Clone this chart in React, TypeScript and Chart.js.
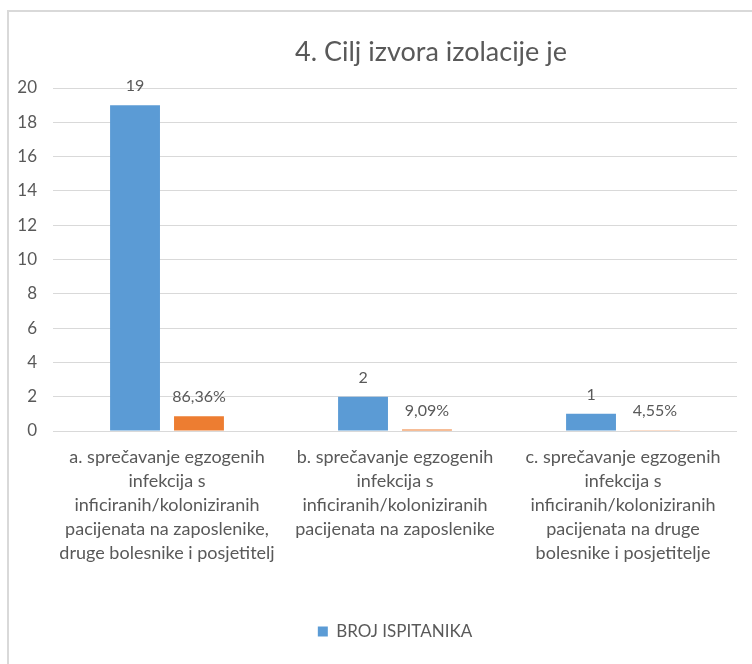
import React, { useEffect, useRef } from "react";
import { Chart, registerables } from "chart.js";

Chart.register(...registerables);

const titleText = "4. Cilj izvora izolacije je";
const categories: string[][] = [
  ["a. sprečavanje egzogenih", "infekcija s", "inficiranih/koloniziranih", "pacijenata na zaposlenike,", "druge bolesnike i posjetitelj"],
  ["b. sprečavanje egzogenih", "infekcija s", "inficiranih/koloniziranih", "pacijenata na zaposlenike"],
  ["c. sprečavanje egzogenih", "infekcija s", "inficiranih/koloniziranih", "pacijenata na druge", "bolesnike i posjetitelje"],
];
const countSeriesName = "BROJ ISPITANIKA";
const counts = [19, 2, 1];
const shareSeriesName = "POSTOTAK";
const shares = [0.8636, 0.0909, 0.0455];
const yMin = 0;
const yMax = 20;
const yStep = 2;

const FONT = "Lato";
const TEXT = "#595959";
const BLUE = "#5b9bd5";
const ORANGE = "#ed7d31";
const GRID = "#d9d9d9";

const formatValue = (dsIndex: number, v: number) =>
  dsIndex === 0 ? String(v) : (v * 100).toFixed(2).replace(".", ",") + "%";

const labelPlugin = {
  id: "extras",
  afterDatasetsDraw(chart: any) {
    const ctx = chart.ctx;
    ctx.save();
    ctx.fillStyle = TEXT;
    ctx.font = `16px ${FONT}`;
    ctx.textAlign = "center";
    ctx.textBaseline = "middle";
    chart.data.datasets.forEach((ds: any, di: number) => {
      const meta = chart.getDatasetMeta(di);
      meta.data.forEach((bar: any, i: number) => {
        ctx.fillText(formatValue(di, ds.data[i]), bar.x, bar.y - 19);
      });
    });
    ctx.font = `27px ${FONT}`;
    ctx.fillText(titleText, 431, 52);
    ctx.restore();
  },
};

export default function App() {
  const ref = useRef<HTMLCanvasElement | null>(null);
  useEffect(() => {
    if (!ref.current) return;
    const chart = new Chart(ref.current, {
      type: "bar",
      data: {
        labels: categories,
        datasets: [
          { label: countSeriesName, data: counts, backgroundColor: BLUE },
          { label: shareSeriesName, data: shares, backgroundColor: ORANGE },
        ],
      },
      options: {
        animation: false,
        responsive: true,
        maintainAspectRatio: false,
        datasets: { bar: { categoryPercentage: 0.561, barPercentage: 0.78 } },
        layout: { padding: { left: 0, right: 15, top: 88, bottom: 14 } },
        plugins: {
          title: { display: false },
          tooltip: { enabled: false },
          legend: {
            position: "bottom",
            fullSize: false,
            labels: {
              filter: (item: any) => item.datasetIndex === 0,
              boxWidth: 10,
              boxHeight: 10,
              color: TEXT,
              font: { family: FONT, size: 17 },
            },
          },
        },
        scales: {
          x: {
            grid: { display: false, drawTicks: false },
            border: { display: false },
            ticks: {
              color: TEXT,
              font: { family: FONT, size: 18, lineHeight: 24 / 18 },
              padding: 14,
              maxRotation: 0,
              autoSkip: false,
            },
            afterFit: (s: any) => {
              s.height = 182;
            },
          },
          y: {
            min: yMin,
            max: yMax,
            grid: { color: GRID, drawTicks: false },
            border: { display: false },
            ticks: {
              stepSize: yStep,
              color: TEXT,
              font: { family: FONT, size: 17 },
              padding: 16,
            },
            afterFit: (s: any) => {
              s.width = 53;
            },
          },
        },
      },
      plugins: [labelPlugin],
    });
    return () => chart.destroy();
  }, []);

  return (
    <div style={{ position: "fixed", left: 0, top: 0, width: 752, height: 664, background: "#fff", overflow: "hidden" }}>
      <div
        style={{
          position: "absolute",
          left: 7,
          top: 10,
          width: 800,
          height: 700,
          border: `2px solid ${GRID}`,
          boxSizing: "border-box",
        }}
      />
      <div style={{ position: "absolute", left: 0, top: 0, width: 752, height: 664 }}>
        <canvas ref={ref} />
      </div>
    </div>
  );
}
